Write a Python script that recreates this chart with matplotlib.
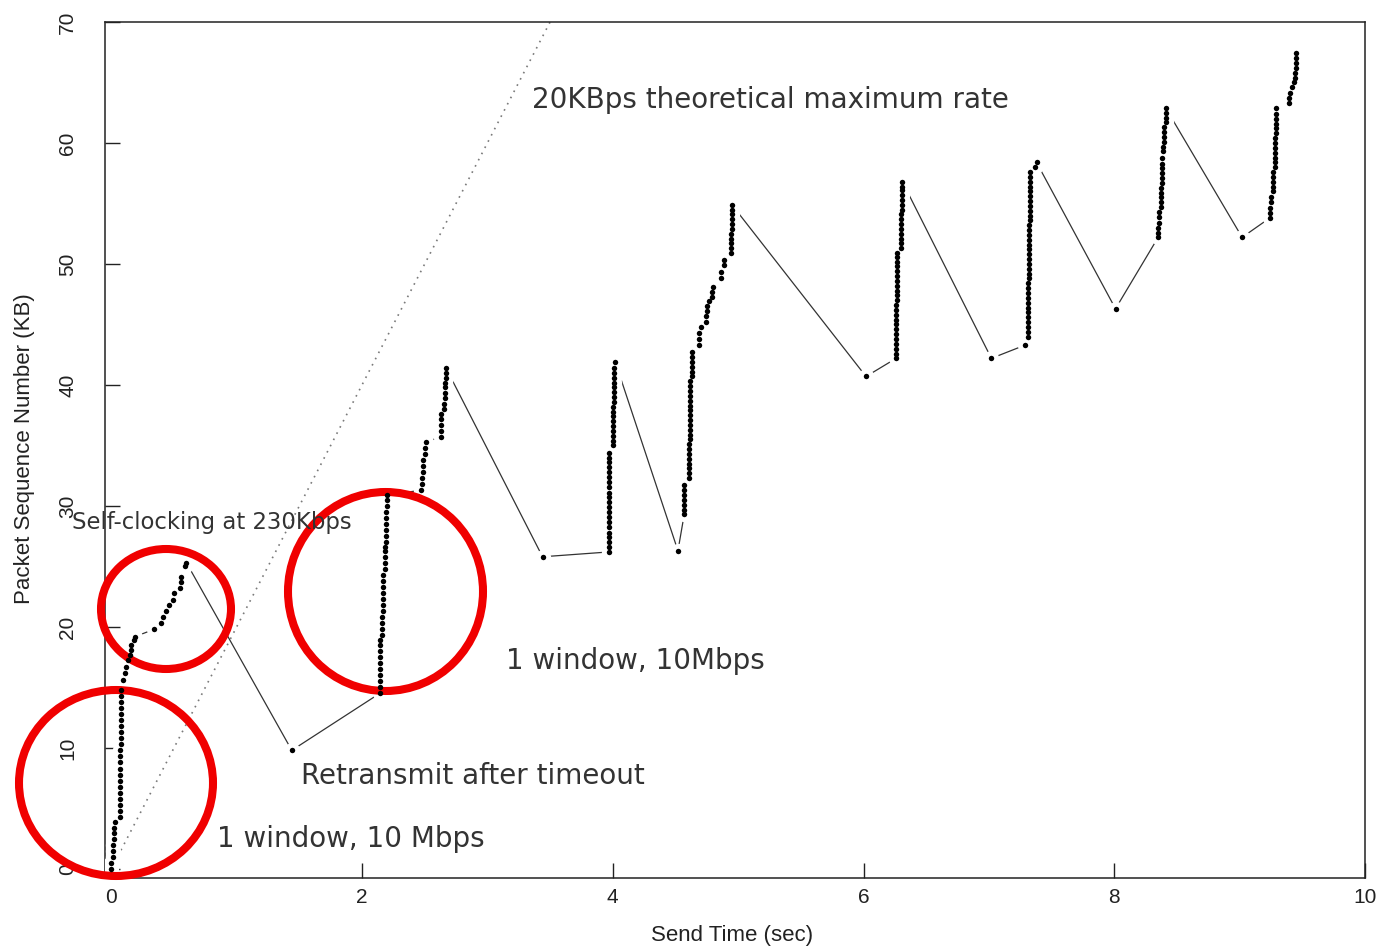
import matplotlib; matplotlib.use('Agg')
import matplotlib.pyplot as plt
from matplotlib.patches import Ellipse

# send time (s) / sequence number (KB) of every packet, in send order
send_time = [
    0.00, 0.00, 0.01, 0.01, 0.01, 0.02, 0.02, 0.02, 0.03,
    0.07, 0.07, 0.07, 0.07, 0.07, 0.07, 0.07, 0.07, 0.07, 0.07, 0.07, 0.07,
    0.08, 0.08, 0.08, 0.08, 0.08, 0.08, 0.08, 0.08, 0.08, 0.08,
    0.09, 0.11, 0.12, 0.13, 0.15, 0.16, 0.16, 0.18, 0.19,
    0.34, 0.40, 0.41, 0.44, 0.46, 0.49, 0.50, 0.55, 0.56, 0.56, 0.59, 0.60,
    1.44,
    2.14, 2.14, 2.14, 2.14, 2.14, 2.14, 2.14, 2.14, 2.14, 2.14,
    2.16, 2.16, 2.16, 2.16, 2.17, 2.17, 2.17, 2.17, 2.17, 2.17, 2.17, 2.18, 2.18, 2.18, 2.18, 2.18,
    2.19, 2.19, 2.19, 2.19, 2.19, 2.19, 2.20, 2.20, 2.20,
    2.47, 2.48, 2.48, 2.49, 2.49, 2.49, 2.50, 2.50, 2.51,
    2.63, 2.63, 2.63, 2.63, 2.63,
    2.65, 2.65, 2.66, 2.66, 2.66, 2.66, 2.67, 2.67, 2.67,
    3.44,
    3.97, 3.97, 3.97, 3.97, 3.97, 3.97, 3.97, 3.97, 3.97, 3.97, 3.97,
    3.97, 3.97, 3.97, 3.97, 3.97, 3.97, 3.97, 3.97, 3.97, 3.97,
    4.00, 4.00, 4.00, 4.00, 4.00, 4.00, 4.00, 4.00, 4.00,
    4.01, 4.01, 4.01, 4.01, 4.01, 4.01, 4.01, 4.01, 4.02,
    4.52,
    4.57, 4.57, 4.57, 4.57, 4.57, 4.57, 4.57,
    4.61, 4.61, 4.61, 4.61, 4.61, 4.61, 4.61, 4.61, 4.62, 4.62, 4.62, 4.62, 4.62, 4.62, 4.62,
    4.62, 4.62, 4.62, 4.62, 4.62, 4.62, 4.63, 4.63, 4.63, 4.63, 4.63, 4.63,
    4.69, 4.69, 4.69, 4.70,
    4.74, 4.74, 4.75, 4.75,
    4.77, 4.79, 4.79, 4.80,
    4.86, 4.86, 4.89, 4.89,
    4.94, 4.94, 4.94, 4.94, 4.94, 4.95, 4.95, 4.95, 4.95, 4.95, 4.95,
    6.02,
    6.26, 6.26, 6.26, 6.26, 6.26, 6.26, 6.26, 6.26, 6.26, 6.26, 6.26, 6.26,
    6.27, 6.27, 6.27, 6.27, 6.27, 6.27, 6.27, 6.27, 6.27, 6.27, 6.27,
    6.30, 6.30, 6.30, 6.30, 6.30, 6.30, 6.30, 6.30, 6.31, 6.31, 6.31, 6.31, 6.31, 6.31, 6.31,
    7.02,
    7.29,
    7.31, 7.31, 7.31, 7.31, 7.31, 7.31, 7.31, 7.31, 7.31, 7.31, 7.31, 7.31,
    7.32, 7.32, 7.32, 7.32, 7.32, 7.32, 7.32, 7.32, 7.32, 7.32, 7.32, 7.32,
    7.33, 7.33, 7.33, 7.33, 7.33, 7.33, 7.33, 7.33, 7.33, 7.33, 7.33,
    7.37, 7.38,
    8.01,
    8.35, 8.35, 8.35, 8.36, 8.36, 8.36,
    8.37, 8.37, 8.37, 8.37, 8.37, 8.38, 8.38, 8.38, 8.38, 8.38, 8.38,
    8.39, 8.39, 8.40, 8.40, 8.40, 8.40, 8.41, 8.41, 8.41, 8.41,
    9.02,
    9.24, 9.24, 9.24, 9.25, 9.25,
    9.27, 9.27, 9.27, 9.27, 9.27, 9.28, 9.28, 9.28, 9.28, 9.28, 9.28, 9.28, 9.29, 9.29, 9.29, 9.29, 9.29, 9.29,
    9.39, 9.39, 9.40, 9.42, 9.43, 9.44, 9.44, 9.45, 9.45, 9.45, 9.45,
]
seq_kb = [
    0.0, 0.5, 1.0, 1.5, 2.0, 2.5, 3.0, 3.4, 3.9,
    4.3, 4.8, 5.3, 5.8, 6.3, 6.8, 7.3, 7.8, 8.3, 8.8, 9.3, 9.8,
    10.3, 10.8, 11.3, 11.8, 12.3, 12.8, 13.3, 13.8, 14.3, 14.8,
    15.6, 16.2, 16.7, 17.3, 17.7, 18.1, 18.5, 18.9, 19.2,
    19.8, 20.3, 20.8, 21.3, 21.8, 22.2, 22.8, 23.2, 23.7, 24.1, 25.0, 25.3,
    9.8,
    14.5, 15.0, 15.5, 16.0, 16.5, 17.0, 17.5, 18.0, 18.5, 18.9,
    19.3, 19.8, 20.3, 20.8, 21.3, 21.8, 22.3, 22.8, 23.3, 23.8, 24.3, 24.8, 25.3, 25.8, 26.3, 26.6,
    27.0, 27.5, 28.0, 28.5, 29.0, 29.5, 30.0, 30.5, 30.9,
    31.3, 31.8, 32.3, 32.8, 33.3, 33.8, 34.3, 34.8, 35.3,
    35.7, 36.2, 36.7, 37.2, 37.6,
    38.0, 38.4, 38.9, 39.3, 39.8, 40.2, 40.6, 41.0, 41.4,
    25.8,
    26.2, 26.6, 27.0, 27.4, 27.8, 28.3, 28.7, 29.1, 29.5, 29.9, 30.3,
    30.7, 31.1, 31.6, 32.0, 32.4, 32.8, 33.2, 33.6, 34.0, 34.4,
    35.0, 35.4, 35.8, 36.2, 36.6, 37.0, 37.4, 37.8, 38.2,
    38.6, 39.0, 39.4, 39.8, 40.2, 40.6, 41.0, 41.4, 41.9,
    26.3,
    29.3, 29.7, 30.1, 30.5, 30.9, 31.3, 31.7,
    32.3, 32.7, 33.1, 33.5, 33.9, 34.3, 34.7, 35.1, 35.5, 35.9, 36.3, 36.7, 37.1, 37.5, 37.9,
    38.3, 38.7, 39.1, 39.5, 39.9, 40.3, 40.7, 41.1, 41.5, 41.9, 42.3, 42.7,
    43.3, 43.8, 44.3, 44.8,
    45.2, 45.7, 46.1, 46.5,
    46.9, 47.3, 47.7, 48.1,
    48.8, 49.3, 49.9, 50.3,
    50.9, 51.3, 51.7, 52.1, 52.5, 52.9, 53.3, 53.7, 54.1, 54.5, 54.9,
    40.7,
    42.2, 42.6, 43.0, 43.4, 43.8, 44.2, 44.6, 45.0, 45.4, 45.8, 46.2, 46.6,
    47.0, 47.4, 47.8, 48.2, 48.6, 49.0, 49.4, 49.8, 50.2, 50.6, 50.9,
    51.3, 51.7, 52.1, 52.5, 52.9, 53.3, 53.7, 54.1, 54.5, 54.9, 55.3, 55.7, 56.1, 56.4, 56.8,
    42.2,
    43.3,
    44.0, 44.4, 44.8, 45.2, 45.6, 46.0, 46.4, 46.8, 47.2, 47.6, 48.0, 48.4,
    48.8, 49.2, 49.6, 50.0, 50.4, 50.8, 51.2, 51.6, 52.0, 52.4, 52.8, 53.2,
    53.6, 54.0, 54.4, 54.8, 55.2, 55.6, 56.0, 56.4, 56.8, 57.2, 57.6,
    58.0, 58.4,
    46.3,
    52.2, 52.6, 53.0, 53.4, 53.9, 54.3,
    54.7, 55.1, 55.5, 55.9, 56.3, 56.7, 57.1, 57.5, 57.9, 58.3, 58.8,
    59.3, 59.7, 60.1, 60.5, 60.9, 61.3, 61.7, 62.1, 62.5, 62.9,
    52.2,
    53.8, 54.2, 54.6, 55.1, 55.5,
    56.0, 56.4, 56.8, 57.2, 57.6, 58.0, 58.4, 58.8, 59.2, 59.6, 60.0, 60.4, 60.8, 61.2, 61.6, 62.0, 62.4, 62.9,
    63.3, 63.7, 64.1, 64.6, 65.0, 65.4, 65.8, 66.2, 66.6, 67.0, 67.4,
]

# 20 KB/s theoretical maximum
max_rate_kbps = 20.0
max_rate_t = [0.0, 4.0]

# callouts: (text, x, y, fontsize)
notes = [('20KBps theoretical maximum rate', 3.357, 63.55, 20),
         ('Self-clocking at 230Kbps', -0.316, 28.6, 16.4),
         ('1 window, 10Mbps', 3.15, 17.2, 20),
         ('Retransmit after timeout', 1.516, 7.7, 20),
         ('1 window, 10 Mbps', 0.847, 2.5, 20)]
# red highlight rings, figure pixels: (cx, cy, w, h)
rings = [(116, 783, 194, 186), (166, 609, 130, 120), (385.5, 591.5, 195, 199)]

W, H = 1382, 950
fig = plt.figure(figsize=(W/100, H/100), dpi=100)
ax = fig.add_axes([105/W, 1-878/H, 1260/W, 856/H])
ax.set_xlim(-0.05, 10.0); ax.set_ylim(-0.75, 70)

ax.plot(max_rate_t, [max_rate_kbps*t for t in max_rate_t], color='#7a7a7a', lw=1.2, ls=(0, (1, 3.2)), zorder=1)
ax.plot(send_time, seq_kb, '-', color='#333333', lw=0.9, zorder=2)
ax.plot(send_time, seq_kb, 'o', color='white', ms=11, mec='none', zorder=3)
for cx, cy, w, h in rings:
    ax.add_patch(Ellipse((cx/W, 1-cy/H), w/W, h/H, transform=fig.transFigure, fill=False,
                         ec='#f00000', lw=5.8, clip_on=False, zorder=4))
ax.plot(send_time, seq_kb, 'o', color='black', ms=3.9, mec='none', zorder=5)

for txt, x, y, fs in notes:
    ax.text(x, y, txt, fontsize=fs, family='DejaVu Sans', color='#333333', ha='left', va='center',
            clip_on=False, zorder=6)

for s in ax.spines.values(): s.set_linewidth(1.1); s.set_color('#222222')
ax.set_xticks(range(0, 11, 2)); ax.set_yticks(range(0, 71, 10))
ax.tick_params(direction='in', length=11, width=1.0, colors='#222222', top=False, right=False,
               labelsize=15, labelfontfamily='Liberation Sans')
ax.tick_params(axis='x', pad=7)
ax.tick_params(axis='y', pad=20, labelrotation=90)
for lb in ax.get_yticklabels(): lb.set_va('center')
ax.set_xlabel('Send Time (sec)', fontsize=16, family='Liberation Sans', color='#222222')
ax.set_ylabel('Packet Sequence Number (KB)', fontsize=16, family='Liberation Sans', color='#222222')
ax.xaxis.set_label_coords(0.4976, -0.055)
ax.yaxis.set_label_coords(-0.0556, 0.502)

fig.savefig('out.png', dpi=100)
